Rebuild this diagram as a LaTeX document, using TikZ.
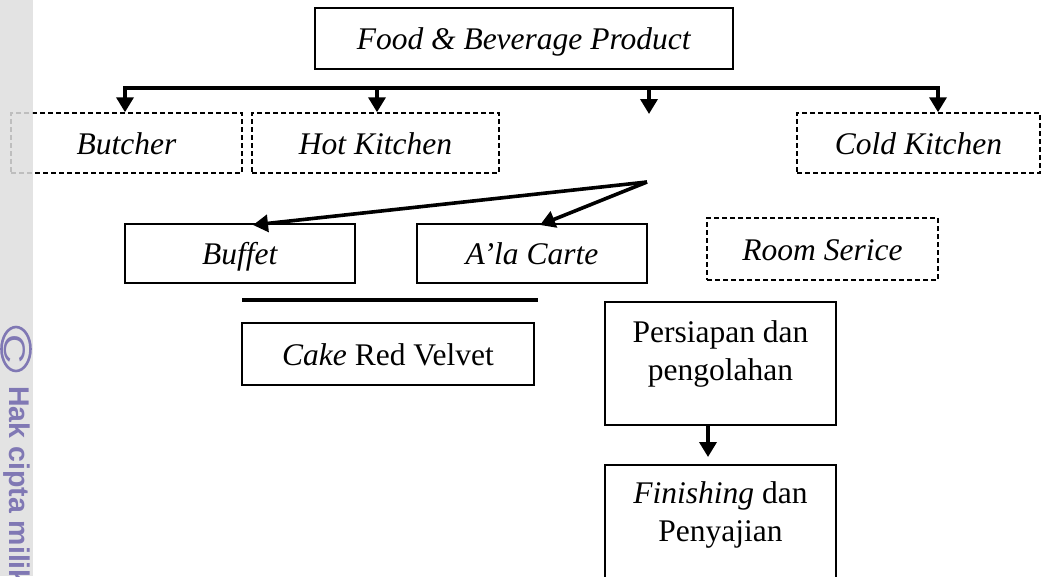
\documentclass[tikz,border=0pt]{standalone}
\usepackage{fontspec}
\setmainfont{Liberation Serif}
\newfontfamily\wmfont{Liberation Sans}
\usetikzlibrary{arrows.meta}
\definecolor{wmgray}{gray}{0.87}
\definecolor{wmpurple}{HTML}{8078B4}
\begin{document}
\begin{tikzpicture}[x=1pt,y=-1pt,
  txt/.style={font=\fontsize{31.5}{37.5}\selectfont, align=center, inner sep=0pt},
  box/.style={draw, line width=1.6pt, inner sep=0pt, txt, text height=22pt, text depth=0pt},
  dbox/.style={box, line width=1.5pt, dash pattern=on 5pt off 3pt},
  plainbox/.style={draw, line width=1.6pt, inner sep=0pt},
  thick line/.style={line width=3.6pt},
  arr/.style={line width=3.6pt, -{Triangle[width=17pt,length=15pt]}},
  wm/.style={wmpurple, rotate=-90, inner sep=0pt, font=\wmfont\bfseries\fontsize{28.5}{28.5}\selectfont}
]
\useasboundingbox (0,0) rectangle (1049,576);

% boxes
\node[box, minimum width=418pt, minimum height=61pt] (fb) at (524,38.5) {\textit{Food \& Beverage Product}};
\node[dbox, minimum width=231pt, minimum height=60pt] (butcher) at (126.5,143) {\textit{Butcher}};
\node[dbox, minimum width=247pt, minimum height=60pt] (hot) at (375.5,143) {\textit{Hot Kitchen}};
\node[dbox, minimum width=243pt, minimum height=60pt] (cold) at (918.5,143) {\textit{Cold Kitchen}};
\node[box, minimum width=230pt, minimum height=59pt] (buffet) at (240,253.5) {\textit{Buffet}};
\node[box, minimum width=230pt, minimum height=59pt] (alacarte) at (532,253.5) {\textit{A'la Carte}};
\node[dbox, minimum width=231pt, minimum height=62pt] (room) at (822.5,249) {\textit{Room Serice}};
\node[box, minimum width=292pt, minimum height=62pt] (cake) at (388,354) {\textit{Cake} Red Velvet};
\node[plainbox, minimum width=231pt, minimum height=123pt] (prep) at (720.5,363.5) {};
\node[txt] (prept) at (720.5,354) {Persiapan dan\\pengolahan};
\node[plainbox, minimum width=231pt, minimum height=123pt] (fin) at (720.5,526.5) {};
\node[txt] (fint) at (720.5,515) {\textit{Finishing} dan\\Penyajian};

% distribution bar
\coordinate (b1) at (125,88);
\coordinate (b2) at (377,88);
\coordinate (b3) at (649,88);
\coordinate (b4) at (938,88);
\coordinate (mid) at (649,114);
\draw[thick line] ([xshift=-1.8pt]b1) -- ([xshift=1.8pt]b4);
\draw[arr] (b1) -- (b1 |- butcher.north);
\draw[arr] (b2) -- (b2 |- hot.north);
\draw[arr] (b3) -- (mid);
\draw[arr] (b4) -- (b4 |- cold.north);

% branch to buffet / a'la carte
\coordinate (apex) at (647,182);
\coordinate (tb) at (253,225);
\coordinate (ta) at (540,225);
\draw[arr] (apex) -- (tb);
\draw[arr] (apex) -- (ta);

% line under buffet
\coordinate (l1) at (242,300);
\coordinate (l2) at (538,300);
\draw[thick line] (l1) -- (l2);

% process arrow
\coordinate (p1) at (708,425);
\coordinate (p2) at (708,457);
\draw[arr] (p1) -- (p2);

% watermark strip
\fill[wmgray, opacity=0.86] (0,0) rectangle (33,576);
\draw[wmpurple, line width=2.6pt] (16,349) ellipse [x radius=14.5pt, y radius=22pt];
\node[wmpurple, inner sep=0pt, font=\wmfont\fontsize{30}{30}\selectfont, rotate=-90,
  xscale=1.35] (copy) at (15,349) {C};
\node[wm, anchor=west] (wmt) at (17,386) {Hak cipta milik};
\end{tikzpicture}
\end{document}
